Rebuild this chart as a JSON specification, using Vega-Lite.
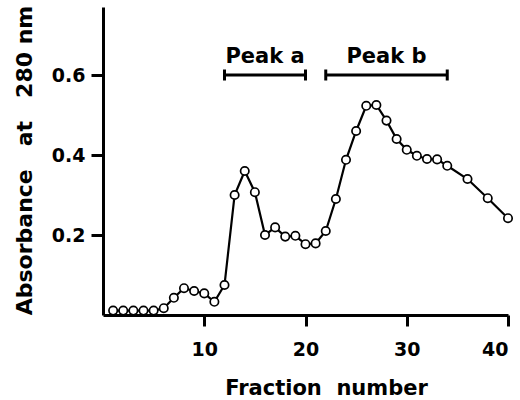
{
  "$schema": "https://vega.github.io/schema/vega-lite/v6.json",
  "autosize": "none",
  "width": 405,
  "height": 308,
  "padding": {"left": 103, "top": 7, "right": 12, "bottom": 85},
  "background": "white",
  "config": {
    "view": {"stroke": null},
    "axis": {
      "grid": false,
      "domainColor": "black",
      "domainWidth": 3,
      "tickColor": "black",
      "tickWidth": 3,
      "tickSize": 11,
      "labelFont": "DejaVu Sans",
      "labelFontWeight": "bold",
      "labelFontSize": 19,
      "labelColor": "black",
      "titleFont": "DejaVu Sans",
      "titleFontWeight": "bold",
      "titleFontSize": 21,
      "titleColor": "black"
    }
  },
  "datasets": {
    "absorbance": [
      {"fraction": 1, "absorbance": 0.011},
      {"fraction": 2, "absorbance": 0.011},
      {"fraction": 3, "absorbance": 0.011},
      {"fraction": 4, "absorbance": 0.011},
      {"fraction": 5, "absorbance": 0.011},
      {"fraction": 6, "absorbance": 0.017},
      {"fraction": 7, "absorbance": 0.043},
      {"fraction": 8, "absorbance": 0.067},
      {"fraction": 9, "absorbance": 0.060},
      {"fraction": 10, "absorbance": 0.054},
      {"fraction": 11, "absorbance": 0.033},
      {"fraction": 12, "absorbance": 0.075},
      {"fraction": 13, "absorbance": 0.300},
      {"fraction": 14, "absorbance": 0.360},
      {"fraction": 15, "absorbance": 0.307},
      {"fraction": 16, "absorbance": 0.200},
      {"fraction": 17, "absorbance": 0.219},
      {"fraction": 18, "absorbance": 0.196},
      {"fraction": 19, "absorbance": 0.198},
      {"fraction": 20, "absorbance": 0.177},
      {"fraction": 21, "absorbance": 0.179},
      {"fraction": 22, "absorbance": 0.210},
      {"fraction": 23, "absorbance": 0.290},
      {"fraction": 24, "absorbance": 0.388},
      {"fraction": 25, "absorbance": 0.460},
      {"fraction": 26, "absorbance": 0.523},
      {"fraction": 27, "absorbance": 0.525},
      {"fraction": 28, "absorbance": 0.486},
      {"fraction": 29, "absorbance": 0.440},
      {"fraction": 30, "absorbance": 0.413},
      {"fraction": 31, "absorbance": 0.398},
      {"fraction": 32, "absorbance": 0.390},
      {"fraction": 33, "absorbance": 0.389},
      {"fraction": 34, "absorbance": 0.373},
      {"fraction": 36, "absorbance": 0.340},
      {"fraction": 38, "absorbance": 0.292},
      {"fraction": 40, "absorbance": 0.242}
    ],
    "peaks": [
      {"label": "Peak a", "start": 12, "end": 20, "level": 0.6},
      {"label": "Peak b", "start": 22, "end": 34, "level": 0.6}
    ]
  },
  "layer": [
    {
      "data": {"name": "absorbance"},
      "mark": {"type": "line", "color": "black", "strokeWidth": 2.2},
      "encoding": {
        "x": {
          "field": "fraction", "type": "quantitative",
          "scale": {"domain": [0, 40], "nice": false},
          "axis": {
            "values": [10, 20, 30, 40],
            "labelPadding": 14,
            "title": "Fraction\u00a0\u00a0number",
            "titleX": 223,
            "titleY": 79,
            "titleAlign": "center",
            "titleBaseline": "alphabetic"
          }
        },
        "y": {
          "field": "absorbance", "type": "quantitative",
          "scale": {"domain": [0, 0.77], "nice": false},
          "axis": {
            "values": [0.2, 0.4, 0.6],
            "format": ".1f",
            "tickSize": 12,
            "labelPadding": 6,
            "title": "Absorbance\u00a0\u00a0\u00a0at\u00a0\u00a0\u00a0280\u00a0nm",
            "titleFontSize": 22,
            "titleAngle": 270,
            "titleX": -72,
            "titleY": 153,
            "titleAlign": "center",
            "titleBaseline": "alphabetic"
          }
        }
      }
    },
    {
      "data": {"name": "absorbance"},
      "mark": {"type": "point", "shape": "circle", "filled": true, "fill": "white", "stroke": "black", "strokeWidth": 1.7, "size": 70, "opacity": 1},
      "encoding": {
        "x": {"field": "fraction", "type": "quantitative"},
        "y": {"field": "absorbance", "type": "quantitative"}
      }
    },
    {
      "data": {"name": "peaks"},
      "mark": {"type": "rule", "color": "black", "strokeWidth": 3},
      "encoding": {
        "x": {"field": "start", "type": "quantitative"},
        "x2": {"field": "end"},
        "y": {"field": "level", "type": "quantitative"}
      }
    },
    {
      "data": {"name": "peaks"},
      "mark": {"type": "tick", "orient": "vertical", "color": "black", "thickness": 3, "size": 11, "opacity": 1},
      "encoding": {
        "x": {"field": "start", "type": "quantitative"},
        "y": {"field": "level", "type": "quantitative"}
      }
    },
    {
      "data": {"name": "peaks"},
      "mark": {"type": "tick", "orient": "vertical", "color": "black", "thickness": 3, "size": 11, "opacity": 1},
      "encoding": {
        "x": {"field": "end", "type": "quantitative"},
        "y": {"field": "level", "type": "quantitative"}
      }
    },
    {
      "data": {"name": "peaks"},
      "transform": [
        {"fold": ["start", "end"], "as": ["edge", "pos"]},
        {"aggregate": [{"op": "mean", "field": "pos", "as": "mid"}, {"op": "max", "field": "level", "as": "level"}], "groupby": ["label"]}
      ],
      "mark": {"type": "text", "font": "DejaVu Sans", "fontWeight": "bold", "fontSize": 21, "color": "black", "align": "center", "baseline": "alphabetic", "dy": -12},
      "encoding": {
        "x": {"field": "mid", "type": "quantitative"},
        "y": {"field": "level", "type": "quantitative"},
        "text": {"field": "label"}
      }
    }
  ]
}
